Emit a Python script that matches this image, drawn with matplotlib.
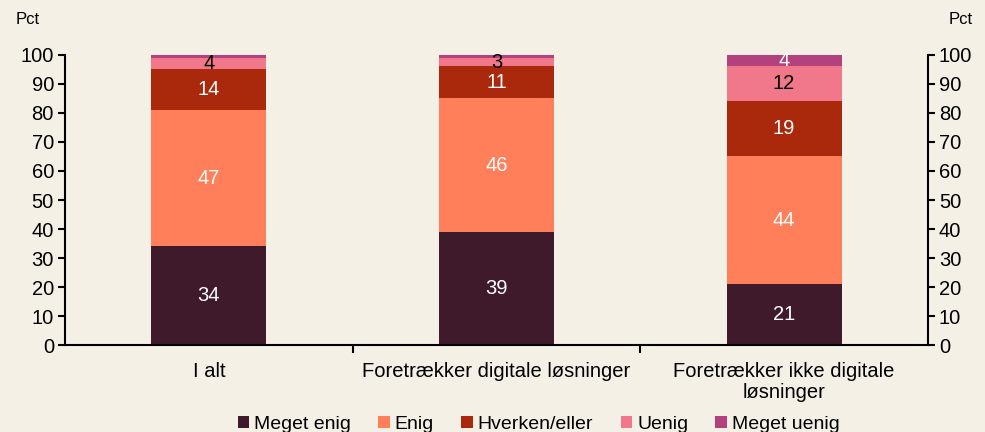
import matplotlib.pyplot as plt
import numpy as np

plt.rcParams['font.family'] = ['Liberation Sans', 'DejaVu Sans']

categories = ['I alt', 'Foretrækker digitale løsninger', 'Foretrækker ikke digitale\nløsninger']
series = ['Meget enig', 'Enig', 'Hverken/eller', 'Uenig', 'Meget uenig']
values = [
    [34, 39, 21],   # Meget enig
    [47, 46, 44],   # Enig
    [14, 11, 19],   # Hverken/eller
    [4, 3, 12],     # Uenig
    [1, 1, 4],      # Meget uenig
]
colors = ['#3F1A2B', '#FF7F5A', '#AA290C', '#F1778A', '#B3417D']
text_colors = ['white', 'white', 'white', 'black', 'white']

bg = '#F4F0E6'
fig = plt.figure(figsize=(9.85, 4.32), dpi=100, facecolor=bg)
ax = fig.add_axes([0.066, 0.201, 0.876, 0.672])
ax.set_facecolor(bg)

x = np.arange(len(categories))
bottom = np.zeros(len(categories))
for name, vals, c, tc in zip(series, values, colors, text_colors):
    vals = np.array(vals, dtype=float)
    ax.bar(x, vals, 0.4, bottom=bottom, color=c, label=name, zorder=2)
    for xi, b, v in zip(x, bottom, vals):
        if v >= 3:
            ax.text(xi, b + v / 2, f'{int(v)}', ha='center', va='center',
                    color=tc, fontsize=14.5)
    bottom += vals

ax.set_xlim(-0.5, 2.5)
ax.set_ylim(0, 100)
ax.set_yticks(range(0, 101, 10))
ax.spines['top'].set_visible(False)
for s in ['left', 'right', 'bottom']:
    ax.spines[s].set_linewidth(1.5)
ax.tick_params(axis='y', which='both', direction='out', length=5, width=1.5,
               labelsize=14.5, left=True, right=True, labelleft=True, labelright=True,
               pad=3)

ax.set_xticks([0.5, 1.5], minor=False)
ax.set_xticks(x, minor=True)
ax.set_xticklabels(['', ''])
ax.set_xticklabels(categories, minor=True, fontsize=14.5, linespacing=1.15)
ax.tick_params(axis='x', which='major', direction='out', length=6, width=1.5)
ax.tick_params(axis='x', which='minor', length=0, pad=12)

fig.text(0.028, 0.955, 'Pct', ha='center', va='center', fontsize=12)
fig.text(0.975, 0.955, 'Pct', ha='center', va='center', fontsize=12)

ax.legend(loc='upper center', bbox_to_anchor=(0.549, -0.21), ncol=5, frameon=False,
          fontsize=14, handlelength=0.6, handleheight=0.6, handletextpad=0.25,
          columnspacing=1.4, borderpad=0)

fig.savefig('out.png', dpi=100, facecolor=bg)
